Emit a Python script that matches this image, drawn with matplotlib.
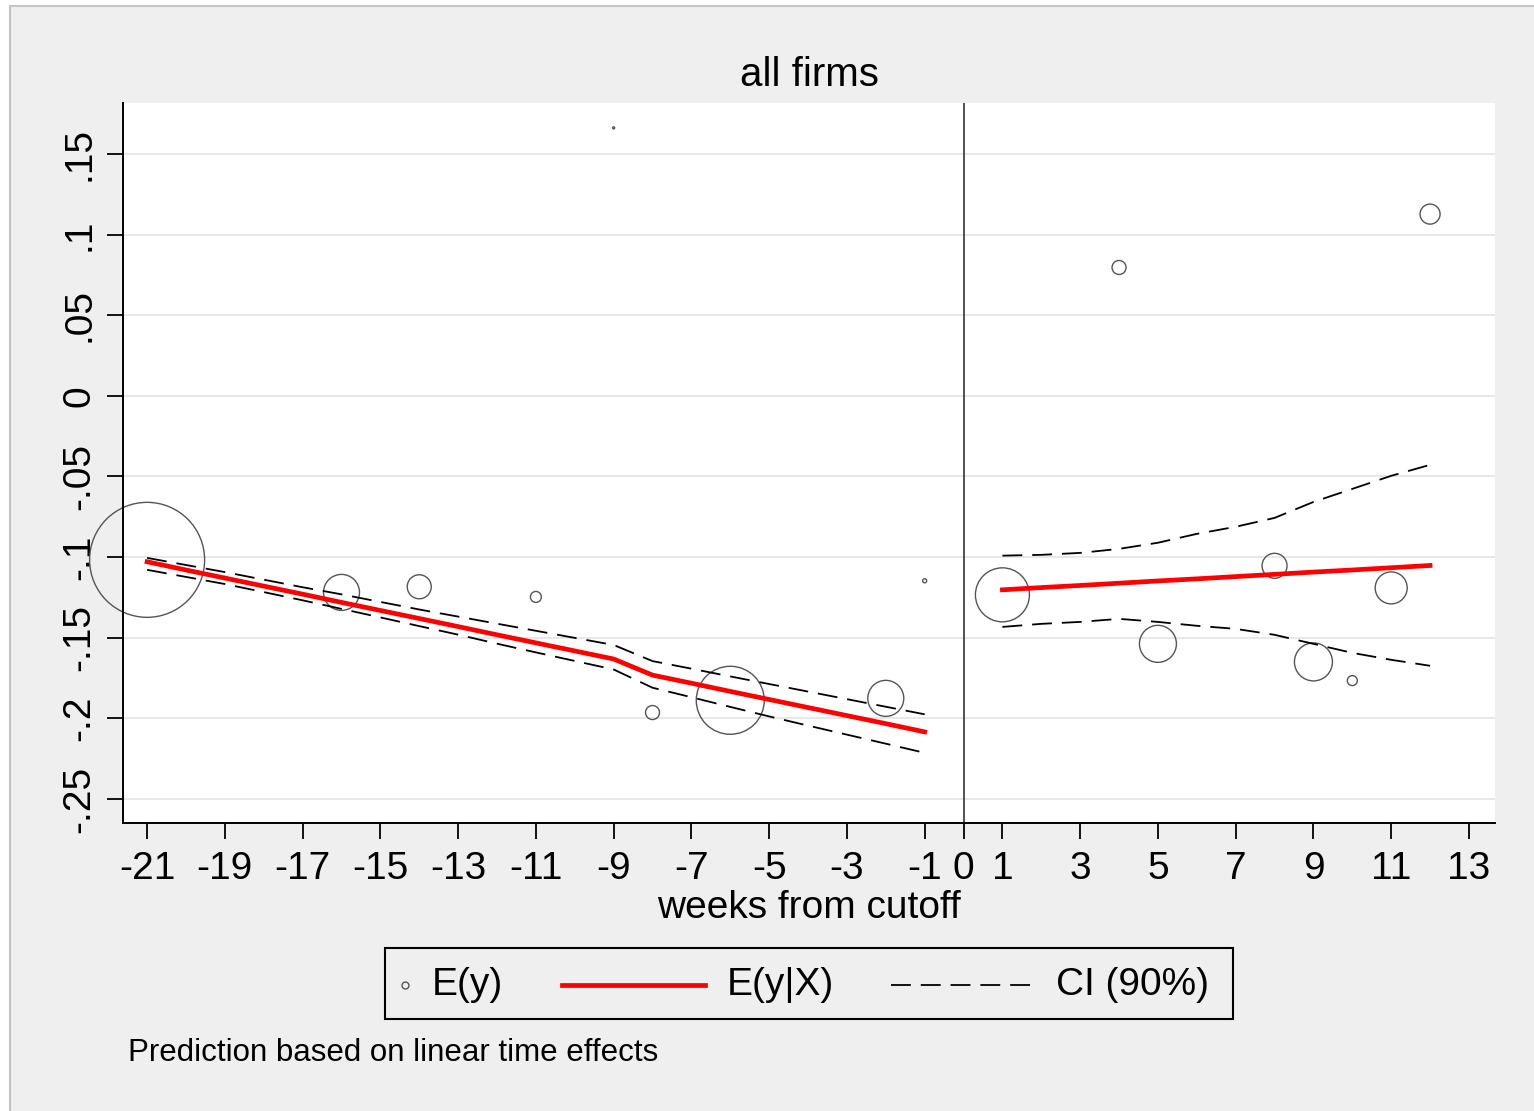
import numpy as np
import matplotlib
matplotlib.use("Agg")
import matplotlib.pyplot as plt
from matplotlib.patches import Rectangle
from matplotlib.lines import Line2D

plt.rcParams['font.family'] = ['Liberation Sans', 'DejaVu Sans']

# E(y): binned means, marker area ~ number of firms in the bin
weeks_pre = [-21, -16, -14, -11, -9, -8, -6, -2, -1]
ey_pre = [-0.1017, -0.1219, -0.1184, -0.1247, 0.1662, -0.1964, -0.1888, -0.1876, -0.1147]
weight_pre = [3306, 324, 144, 30, 1, 49, 1156, 324, 4]

weeks_post = [1, 4, 5, 8, 9, 10, 11, 12]
ey_post = [-0.1234, 0.0796, -0.1538, -0.1054, -0.1650, -0.1766, -0.1191, 0.1127]
weight_post = [729, 49, 342, 156, 361, 25, 256, 100]

# E(y|X) with 90% CI, before cutoff
fit_weeks_pre = list(range(-21, 0))
fit_pre = [-0.1029, -0.1080, -0.1130, -0.1180, -0.1230, -0.1281, -0.1331, -0.1381,
           -0.1431, -0.1482, -0.1532, -0.1582, -0.1632, -0.1732, -0.1782, -0.1833,
           -0.1883, -0.1933, -0.1983, -0.2033, -0.2084]
ci_hi_pre = [-0.1005, -0.1049, -0.1093, -0.1140, -0.1187, -0.1231, -0.1278, -0.1325,
             -0.1369, -0.1413, -0.1457, -0.1501, -0.1545, -0.1645, -0.1692, -0.1740,
             -0.1787, -0.1834, -0.1881, -0.1928, -0.1975]
ci_lo_pre = [-0.1079, -0.1123, -0.1167, -0.1217, -0.1268, -0.1321, -0.1374, -0.1428,
             -0.1481, -0.1537, -0.1591, -0.1644, -0.1697, -0.1810, -0.1869, -0.1929,
             -0.1988, -0.2045, -0.2101, -0.2157, -0.2214]

# E(y|X) with 90% CI, after cutoff
fit_weeks_post = list(range(1, 13))
fit_post = [-0.1203, -0.1189, -0.1176, -0.1162, -0.1148, -0.1135, -0.1121, -0.1107,
            -0.1093, -0.1080, -0.1066, -0.1052]
ci_hi_post = [-0.0991, -0.0986, -0.0974, -0.0949, -0.0911, -0.0856, -0.0812, -0.0757,
              -0.0658, -0.0577, -0.0496, -0.0428]
ci_lo_post = [-0.1433, -0.1414, -0.1402, -0.1383, -0.1402, -0.1426, -0.1445, -0.1482,
              -0.1538, -0.1594, -0.1637, -0.1674]

xticks = [-21, -19, -17, -15, -13, -11, -9, -7, -5, -3, -1, 0, 1, 3, 5, 7, 9, 11, 13]
yticks = [-0.25, -0.2, -0.15, -0.1, -0.05, 0, 0.05, 0.1, 0.15]
ytick_labels = ["-.25", "-.2", "-.15", "-.1", "-.05", "0", ".05", ".1", ".15"]

W, H = 1534, 1111
fig = plt.figure(figsize=(W / 100, H / 100), dpi=100, facecolor='white')

# stata-style gray graph region with a thin border
frame = Rectangle((10 / W, -0.05), 1.1, 1 - 6 / H + 0.05, transform=fig.transFigure,
                  facecolor='#efefef', edgecolor='#c4c4c4', linewidth=1.5, zorder=-10)
fig.add_artist(frame)

ax = fig.add_axes([123 / W, 1 - 823 / H, (1495 - 123) / W, (823 - 103) / H])
ax.set_facecolor('white')

ax.set_xlim(-21.62, 13.67)
ax.set_ylim(-0.2649, 0.1816)

ax.grid(axis='y', color='#e6e6e6', linewidth=1.3, zorder=0)
ax.set_axisbelow(True)

ax.axvline(0, color='#333333', linewidth=1.2, zorder=1)

marker_scale = (2 * 0.72) ** 2
for wk, ey, wt in [(weeks_pre, ey_pre, weight_pre), (weeks_post, ey_post, weight_post)]:
    ax.scatter(wk, ey, s=np.array(wt) * marker_scale, facecolors='none',
               edgecolors='#555555', linewidths=1.0, zorder=2, clip_on=False)

dash = (0, (11, 5.5))
for wk, lo, hi in [(fit_weeks_pre, ci_lo_pre, ci_hi_pre), (fit_weeks_post, ci_lo_post, ci_hi_post)]:
    ax.plot(wk, hi, color='black', linewidth=1.3, linestyle=dash, zorder=3)
    ax.plot(wk, lo, color='black', linewidth=1.3, linestyle=dash, zorder=3)

ax.plot(fit_weeks_pre, fit_pre, color='#ff0000', linewidth=3.4, zorder=4)
ax.plot(fit_weeks_post, fit_post, color='#ff0000', linewidth=3.4, zorder=4)

for side in ['top', 'right']:
    ax.spines[side].set_visible(False)
for side in ['left', 'bottom']:
    ax.spines[side].set_color('black')
    ax.spines[side].set_linewidth(1.4)

ax.set_xticks(xticks)
ax.set_xticklabels([str(t) for t in xticks])
ax.set_yticks(yticks)
ax.set_yticklabels(ytick_labels, rotation=90, va='center')
ax.tick_params(axis='both', length=11.5, width=1.3, color='black', labelsize=28)
ax.tick_params(axis='x', pad=9)
ax.tick_params(axis='y', pad=7)

ax.set_xlabel("weeks from cutoff", fontsize=28, labelpad=2)
ax.set_title("all firms", fontsize=29, pad=12)

# legend box drawn by hand to get stata's key layout
box = Rectangle((385 / W, 1 - 1019 / H), (1233 - 385) / W, (1019 - 948) / H,
                transform=fig.transFigure, facecolor='#efefef', edgecolor='black',
                linewidth=1.5, zorder=5)
fig.add_artist(box)
ly = 1 - 985 / H
fig.add_artist(Line2D([405 / W], [ly], transform=fig.transFigure, marker='o', markersize=5,
                      markerfacecolor='none', markeredgecolor='#555555', markeredgewidth=1.0,
                      linestyle='none', zorder=6))
fig.text(432 / W, ly, "E(y)", fontsize=28, va='center', ha='left', zorder=6)
fig.add_artist(Line2D([562 / W, 705 / W], [ly, ly], transform=fig.transFigure,
                      color='#ff0000', linewidth=3.4, zorder=6))
fig.text(727 / W, ly, "E(y|X)", fontsize=28, va='center', ha='left', zorder=6)
fig.add_artist(Line2D([891 / W, 1033 / W], [ly, ly], transform=fig.transFigure,
                      color='black', linewidth=1.3, linestyle=dash, zorder=6))
fig.text(1056 / W, ly, "CI (90%)", fontsize=28, va='center', ha='left', zorder=6)

fig.text(128 / W, 1 - 1053 / H, "Prediction based on linear time effects",
         fontsize=22.5, va='center', ha='left')

fig.savefig("out.png", dpi=100, facecolor=fig.get_facecolor())
